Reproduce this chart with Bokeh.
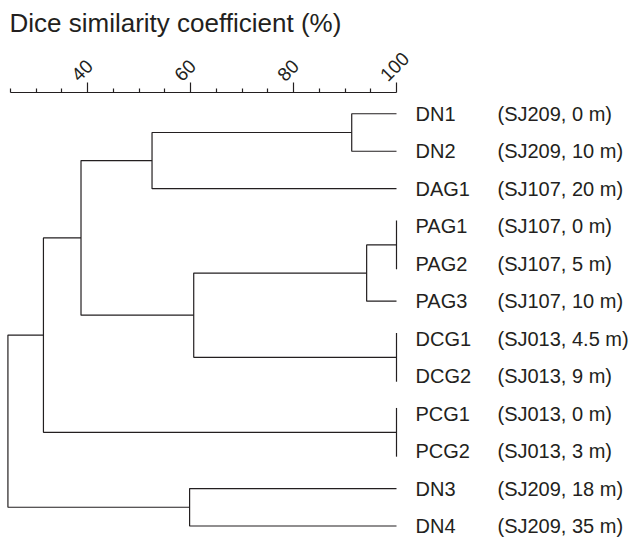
import math
from bokeh.plotting import figure
from bokeh.models import Range1d, FixedTicker, ColumnDataSource
from bokeh.core.properties import value
from bokeh.embed import file_html
from bokeh.resources import INLINE

# ---- data ----
leaf_names = ["DN1", "DN2", "DAG1", "PAG1", "PAG2", "PAG3",
              "DCG1", "DCG2", "PCG1", "PCG2", "DN3", "DN4"]
leaf_sites = ["(SJ209, 0 m)", "(SJ209, 10 m)", "(SJ107, 20 m)", "(SJ107, 0 m)",
              "(SJ107, 5 m)", "(SJ107, 10 m)", "(SJ013, 4.5 m)", "(SJ013, 9 m)",
              "(SJ013, 0 m)", "(SJ013, 3 m)", "(SJ209, 18 m)", "(SJ209, 35 m)"]
# merges in order: child a, child b, Dice similarity (%) of the join
merge_a = ["DN1", "m0", "PAG1", "m2", "DCG1", "m3", "m1", "PCG1", "m6", "DN3", "m8"]
merge_b = ["DN2", "DAG1", "PAG2", "PAG3", "DCG2", "m4", "m5", "PCG2", "m7", "DN4", "m9"]
merge_sim = [91.3, 52.5, 100, 94.2, 100, 60.6, 38.7, 100, 31.4, 59.8, 24.5]
major_ticks = [40, 60, 80, 100]
minor_ticks = [25, 30, 35, 45, 50, 55, 65, 70, 75, 85, 90, 95]
axis_title = "Dice similarity coefficient (%)"

FONT = "Liberation Sans"
INK = "#231f20"

# ---- tree geometry from the merges ----
pos = {name: (100.0, float(i)) for i, name in enumerate(leaf_names)}
xs, ys = [], []
tie_pad = 0.15
for k, (a, b, s) in enumerate(zip(merge_a, merge_b, merge_sim)):
    xa, ya = pos[a]
    xb, yb = pos[b]
    if xa == s and xb == s and a in leaf_names and b in leaf_names:
        xs.append([s, s])
        ys.append([ya - tie_pad, yb + tie_pad])
    else:
        xs.append([xa, s, s, xb])
        ys.append([ya, ya, yb, yb])
    pos["m%d" % k] = (s, (ya + yb) / 2.0)

# ---- layout (screen geometry) ----
px_per_unit = 386.0 / 75.0
x0 = 25 - 10 / px_per_unit
x1 = x0 + 635 / px_per_unit
row_px = 37.5
first_row_px = 113.0
frame_top_px = 41.7          # title + axis panel height (measured)
y_top = (frame_top_px - first_row_px) / row_px
y_bot = 11 + (537 - first_row_px - 11 * row_px) / row_px
axis_row = (92 - first_row_px) / row_px

p = figure(width=635, height=537, output_backend="svg", toolbar_location=None,
           x_range=Range1d(x0, x1), y_range=Range1d(y_bot, y_top),
           x_axis_location="above", y_axis_location=None,
           title=axis_title, min_border=0, outline_line_color=None)
p.grid.visible = False
p.background_fill_color = "white"
p.border_fill_color = "white"

p.title.text_font = FONT
p.title.text_font_size = "26px"
p.title.text_font_style = "normal"
p.title.text_color = INK
p.title.align = "left"
p.title.offset = 9

ax = p.xaxis[0]
ax.fixed_location = axis_row
ax.ticker = FixedTicker(ticks=major_ticks, minor_ticks=minor_ticks)
ax.bounds = (25, 100)
ax.axis_line_color = INK
ax.axis_line_width = 1.2
ax.major_tick_line_color = INK
ax.minor_tick_line_color = INK
ax.major_tick_line_width = 1.2
ax.minor_tick_line_width = 1.2
ax.major_tick_out = 10
ax.major_tick_in = 0
ax.minor_tick_out = 4
ax.minor_tick_in = 0
ax.major_label_text_font_size = "0px"
ax.major_label_overrides = {t: "" for t in major_ticks}
ax.major_label_standoff = 0

# rotated tick labels, placed at the tick values through the x scale
tick_src = ColumnDataSource(dict(x=major_ticks, y=[axis_row] * len(major_ticks),
                                 label=[str(t) for t in major_ticks]))
p.text(x="x", y="y", text="label", source=tick_src, angle=math.pi / 4,
       x_offset=-13, y_offset=-15, text_align="left", text_baseline="middle",
       text_font=value(FONT), text_font_size="19px", text_color=INK)

p.multi_line(xs=xs, ys=ys, line_color=INK, line_width=1.2)

src = ColumnDataSource(dict(x=[100.0] * len(leaf_names),
                            y=list(range(len(leaf_names))),
                            name=leaf_names, site=leaf_sites))
p.text(x="x", y="y", text="name", source=src, x_offset=19,
       text_baseline="middle", text_align="left",
       text_font=value(FONT), text_font_size="20px", text_color=INK)
p.text(x="x", y="y", text="site", source=src, x_offset=101,
       text_baseline="middle", text_align="left",
       text_font=value(FONT), text_font_size="20px", text_color=INK)

open("out.html", "w").write(file_html(p, INLINE))
